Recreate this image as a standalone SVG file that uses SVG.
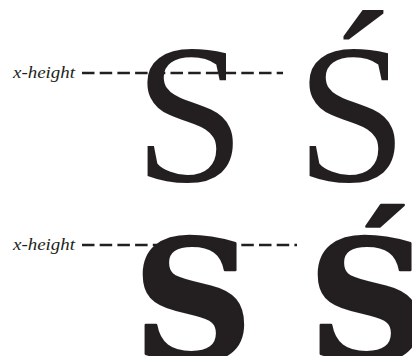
<svg xmlns="http://www.w3.org/2000/svg" width="412" height="356" viewBox="0 0 412 356">
<style>
.lbl{font-family:"Liberation Serif",serif;font-style:italic;font-size:16px;fill:#231f20}
.dash{stroke:#231f20;stroke-width:2.4;stroke-dasharray:12.5 5.2;fill:none}
.serif{font-family:"Liberation Serif",serif;font-size:200px;fill:#231f20}
.mono{font-family:"DejaVu Serif",serif;font-weight:bold;font-size:166px;fill:#231f20;stroke:#231f20;stroke-width:2.5;stroke-linejoin:round}
</style>
<rect width="412" height="356" fill="#fff"/>
<g id="connectors">
<line class="dash" x1="82" y1="73" x2="283" y2="73"/>
<line class="dash" x1="82" y1="245" x2="297" y2="245"/>
</g>
<g id="row1">
<text class="lbl" x="13" y="78" textLength="62" lengthAdjust="spacingAndGlyphs">x-height</text>
<text class="serif" x="134" y="181">S</text>
<text class="serif" x="296" y="181">Ś</text>
</g>
<g id="row2">
<text class="lbl" x="13" y="250" textLength="62" lengthAdjust="spacingAndGlyphs">x-height</text>
<text class="mono" x="133" y="360">S</text>
<text class="mono" x="308" y="360">Ś</text>
</g>
</svg>
